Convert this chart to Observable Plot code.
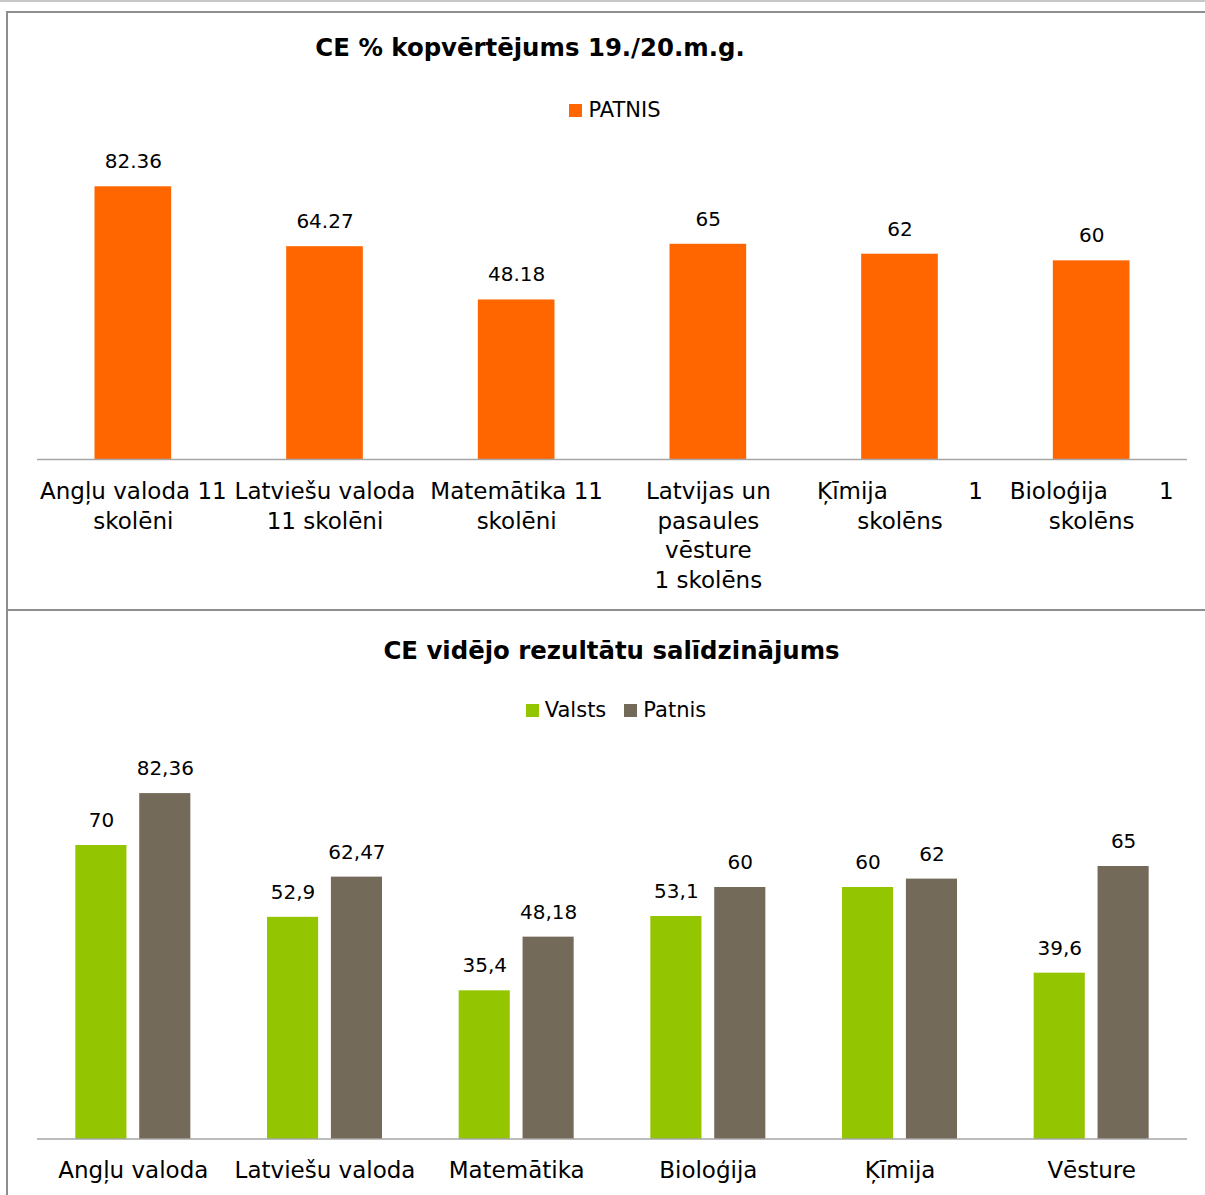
<!DOCTYPE html>
<html>
<head>
<meta charset="utf-8">
<script src="https://cdn.jsdelivr.net/npm/d3@7"></script>
<script src="https://cdn.jsdelivr.net/npm/@observablehq/plot@0.6"></script>
<style>
html, body { margin: 0; padding: 0; overflow: hidden; background: #fff; }
body { width: 1205px; height: 1195px; position: relative; font-family: "DejaVu Sans", sans-serif; color: #000; }
.topline { position: absolute; left: 0; top: 0; width: 1205px; height: 2px; background: #c8c8c8; }
.box { position: absolute; left: 6px; width: 1240px; border: 2px solid #8e8e8e; box-sizing: border-box; }
.title { position: absolute; left: 0; text-align: center; font-weight: bold; font-size: 24.4px; line-height: 30px; white-space: nowrap; }
.legend { position: absolute; left: 0; display: flex; justify-content: center; align-items: center; font-size: 21px; line-height: 26px; }
.legend .item { display: flex; align-items: center; margin: 0 9px; }
.legend .sw { display: inline-block; width: 13px; height: 13px; margin-right: 6px; }
.chart { position: absolute; left: 0; }
</style>
</head>
<body>
<div class="topline"></div>
<div class="box" style="top:11px;height:600px;"></div>
<div class="box" style="top:609px;height:620px;"></div>
<div id="title1" class="title" style="top:33px;width:1060px;"></div>
<div id="legend1" class="legend" style="top:97px;width:1230px;"></div>
<div id="title2" class="title" style="top:636px;width:1223px;"></div>
<div id="legend2" class="legend" style="top:697px;width:1232px;"></div>
<div id="chart1" class="chart" style="top:130px;"></div>
<div id="chart2" class="chart" style="top:730px;"></div>
<script>
// ---- Data: top chart ----
const title1 = "CE % kopvērtējums 19./20.m.g.";
const seriesTop = "PATNIS";
const catsTop = [
  "Angļu valoda 11\nskolēni",
  "Latviešu valoda\n11 skolēni",
  "Matemātika 11\nskolēni",
  "Latvijas un\npasaules\nvēsture\n1 skolēns",
  "Ķīmija\u00a0\u00a0\u00a0\u00a0\u00a0\u00a0\u00a0\u00a0\u00a0\u00a0\u00a01\nskolēns",
  "Bioloģija\u00a0\u00a0\u00a0\u00a0\u00a0\u00a0\u00a01\nskolēns"
];
const valuesTop = [82.36, 64.27, 48.18, 65, 62, 60];

// ---- Data: bottom chart ----
const title2 = "CE vidējo rezultātu salīdzinājums";
const seriesBottom = ["Valsts", "Patnis"];
const catsBottom = ["Angļu valoda", "Latviešu valoda", "Matemātika", "Bioloģija", "Ķīmija", "Vēsture"];
const valsts = [70, 52.9, 35.4, 53.1, 60, 39.6];
const patnis = [82.36, 62.47, 48.18, 60, 62, 65];

const orange = "#ff6600";
const colorsBottom = ["#93c500", "#736a5a"];
const font = "DejaVu Sans, sans-serif";

// Titles & legends
document.getElementById("title1").textContent = title1;
document.getElementById("title2").textContent = title2;
function legend(el, names, colors) {
  const root = document.getElementById(el);
  names.forEach((n, i) => {
    const it = document.createElement("span");
    it.className = "item";
    const sw = document.createElement("span");
    sw.className = "sw";
    sw.style.background = colors[i];
    it.appendChild(sw);
    it.appendChild(document.createTextNode(n));
    root.appendChild(it);
  });
}
legend("legend1", [seriesTop], [orange]);
legend("legend2", seriesBottom, colorsBottom);

// ---- Top chart ----
const dataTop = catsTop.map((c, i) => ({cat: c, value: valuesTop[i]}));
const chart1 = Plot.plot({
  width: 1205, height: 470,
  marginLeft: 37, marginRight: 18, marginTop: 31, marginBottom: 141,
  style: {fontFamily: font, fontSize: "20px", color: "#000", background: "transparent", overflow: "visible"},
  x: {domain: catsTop, paddingInner: 0.6, paddingOuter: 0.3, round: false, label: null},
  y: {domain: [0, 90], axis: null},
  marks: [
    Plot.barY(dataTop, {x: "cat", y: "value", fill: orange}),
    Plot.ruleY([0], {stroke: "#a6a6a6", strokeWidth: 1.5}),
    Plot.text(dataTop, {x: "cat", y: "value", text: d => String(d.value), dy: -25, fill: "#000", fontSize: 20}),
    Plot.axisX({tickSize: 0, tickPadding: 19, fontSize: 23, lineHeight: 1.28, fill: "#000", label: null})
  ]
});
document.getElementById("chart1").appendChild(chart1);

// ---- Bottom chart ----
const dataBottom = [];
catsBottom.forEach((c, i) => {
  dataBottom.push({cat: c, series: seriesBottom[0], value: valsts[i]});
  dataBottom.push({cat: c, series: seriesBottom[1], value: patnis[i]});
});
const chart2 = Plot.plot({
  width: 1205, height: 470,
  marginLeft: 37, marginRight: 18, marginTop: 31, marginBottom: 61,
  style: {fontFamily: font, fontSize: "20px", color: "#000", background: "transparent", overflow: "visible"},
  fx: {domain: catsBottom, paddingInner: 0.4, paddingOuter: 0.2, round: false, label: null},
  x: {domain: seriesBottom, paddingInner: 0.2, paddingOuter: 0, round: false, axis: null},
  y: {domain: [0, 90], axis: null},
  color: {domain: seriesBottom, range: colorsBottom},
  marks: [
    Plot.barY(dataBottom, {fx: "cat", x: "series", y: "value", fill: "series"}),
    Plot.text(dataBottom, {fx: "cat", x: "series", y: "value", text: d => String(d.value).replace(".", ","), dy: -25, fill: "#000", fontSize: 20}),
    Plot.axisFx({anchor: "bottom", tickSize: 0, tickPadding: 22, fontSize: 23, fill: "#000", label: null})
  ]
});
// baseline across the whole plot width, placed with the chart's own scales
{
  const y0 = chart2.scale("y").apply(0);
  const [fx0, fx1] = chart2.scale("fx").range;
  d3.select(chart2).append("line")
    .attr("x1", fx0).attr("x2", fx1)
    .attr("y1", y0).attr("y2", y0)
    .attr("stroke", "#a6a6a6").attr("stroke-width", 1.5);
}
document.getElementById("chart2").appendChild(chart2);
</script>
</body>
</html>
